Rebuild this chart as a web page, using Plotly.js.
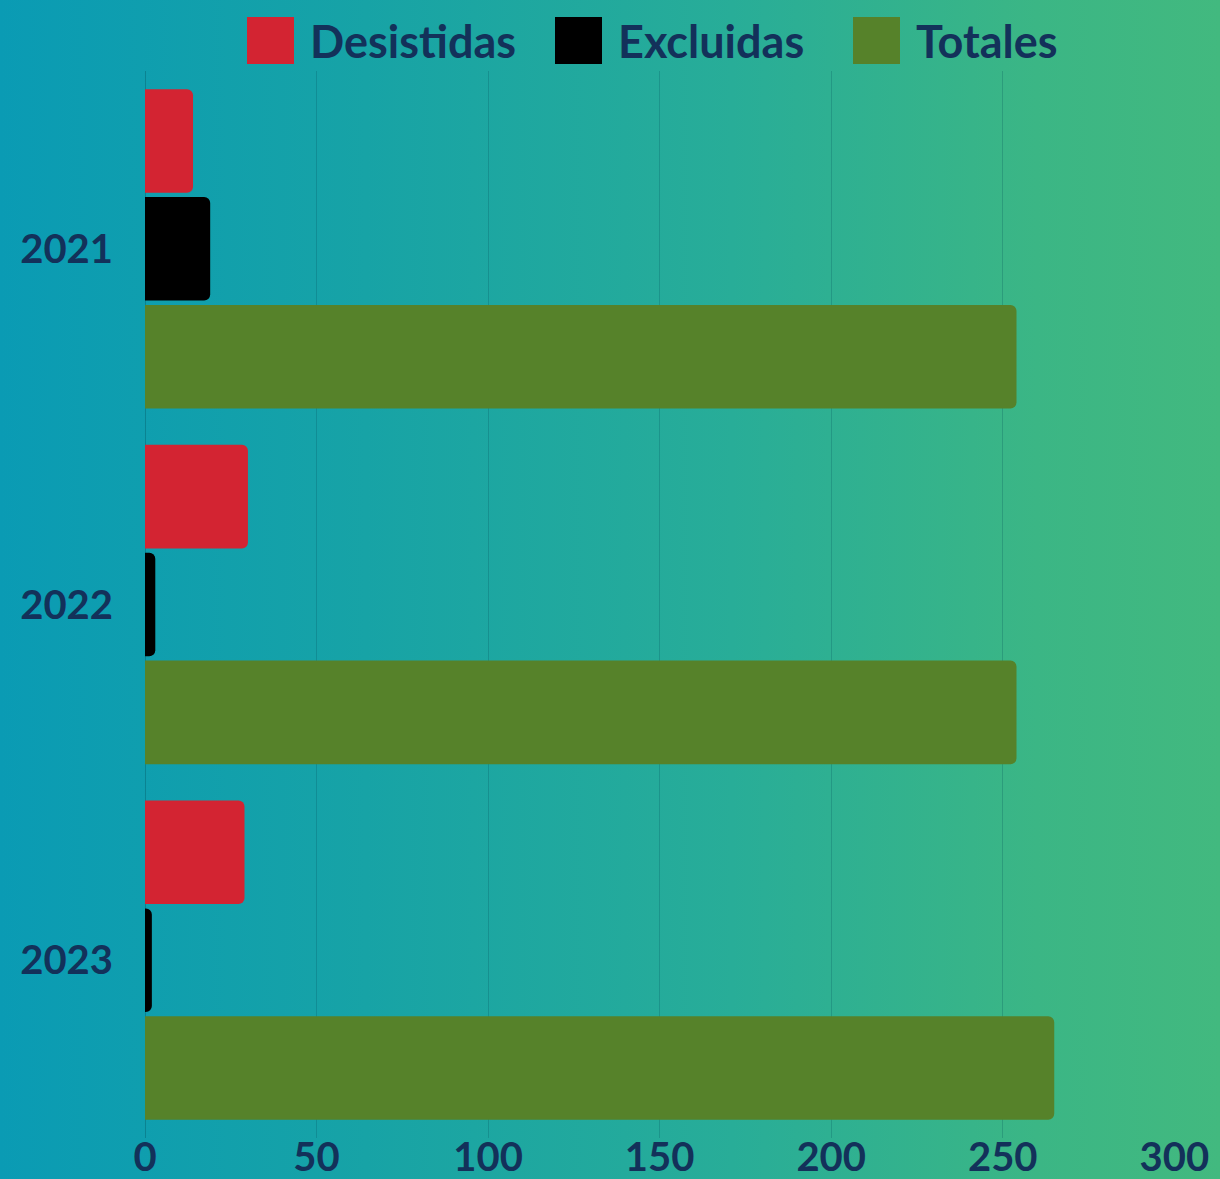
<!DOCTYPE html>
<html>
<head>
<meta charset="utf-8">
<script src="https://cdn.plot.ly/plotly-3.0.1.min.js"></script>
<style>
  html, body { margin: 0; padding: 0; }
  body {
    width: 1220px; height: 1179px; overflow: hidden;
    background: linear-gradient(90deg, #0a9bb4 0%, #17a3a6 30%, #28ad98 60%, #3bb685 85%, #42b97f 100%);
  }
  #chart { width: 1220px; height: 1179px; }
</style>
</head>
<body>
<div id="chart"></div>
<script>
const years = ['2021', '2022', '2023'];
const desistidas = [14, 30, 29];
const excluidas = [19, 3, 2];
const totales = [254, 254, 265];
const seriesNames = ['Desistidas', 'Excluidas', 'Totales'];
const seriesColors = ['#d32432', '#000000', '#56822a'];
const xTicks = [0, 50, 100, 150, 200, 250, 300];

const seriesValues = [desistidas, excluidas, totales];
const textColor = '#13315a';
const fontFam = 'Lato, "Open Sans", sans-serif';

const W = 1220, H = 1179;
const M = { l: 145, r: 45, t: 71, b: 41 };
const plotW = W - M.l - M.r, plotH = H - M.t - M.b;
const px2x = px => (px - M.l) / plotW;
const py2y = py => (H - M.b - py) / plotH;

// custom legend layout (pixel positions of swatches, in page pixels)
const legendSwatchLeft = [247, 555, 853];
const legendSwatchSize = 47;
const legendSwatchTop = 17;
const legendTextGap = 14;

const data = seriesValues.map((vals, i) => ({
  type: 'bar',
  orientation: 'h',
  name: seriesNames[i],
  y: years,
  x: vals,
  marker: { color: seriesColors[i], line: { width: 0 } },
  hoverinfo: 'x+name'
}));

const shapes = seriesNames.map((n, i) => ({
  type: 'rect', xref: 'paper', yref: 'paper',
  x0: px2x(legendSwatchLeft[i]), x1: px2x(legendSwatchLeft[i] + legendSwatchSize),
  y0: py2y(legendSwatchTop + legendSwatchSize), y1: py2y(legendSwatchTop),
  fillcolor: seriesColors[i], line: { width: 0 }, layer: 'above'
}));

const annotations = seriesNames.map((n, i) => ({
  xref: 'paper', yref: 'paper',
  x: px2x(legendSwatchLeft[i] + legendSwatchSize + legendTextGap),
  y: py2y(legendSwatchTop + legendSwatchSize / 2 + 1),
  xanchor: 'left', yanchor: 'middle',
  text: n, showarrow: false,
  font: { family: fontFam, size: 45, color: textColor, weight: 'bold' }
}));

const layout = {
  width: W,
  height: H,
  paper_bgcolor: 'rgba(0,0,0,0)',
  plot_bgcolor: 'rgba(0,0,0,0)',
  margin: M,
  barmode: 'group',
  bargap: 0.09,
  bargroupgap: 0.04,
  barcornerradius: 6,
  font: { family: fontFam, color: textColor, size: 36, weight: 'bold' },
  showlegend: false,
  shapes: shapes,
  annotations: annotations,
  xaxis: {
    range: [0, 300.2],
    tickvals: xTicks,
    ticktext: xTicks.map(String),
    showgrid: true,
    gridcolor: 'rgba(0,70,80,0.22)',
    gridwidth: 1,
    zeroline: true,
    zerolinecolor: 'rgba(0,70,80,0.3)',
    zerolinewidth: 1,
    showline: false,
    ticks: '',
    automargin: false,
    ticklabelstandoff: -8,
    tickfont: { family: fontFam, size: 40, color: textColor, weight: 'bold' },
    fixedrange: true
  },
  yaxis: {
    type: 'category',
    categoryorder: 'array',
    categoryarray: years,
    autorange: 'reversed',
    showgrid: false,
    zeroline: false,
    showline: false,
    ticks: 'outside',
    ticklen: 23,
    tickcolor: 'rgba(0,0,0,0)',
    automargin: false,
    tickfont: { family: fontFam, size: 40, color: textColor, weight: 'bold' },
    fixedrange: true
  }
};

Plotly.newPlot('chart', data, layout, { displayModeBar: false, staticPlot: true });
</script>
</body>
</html>
